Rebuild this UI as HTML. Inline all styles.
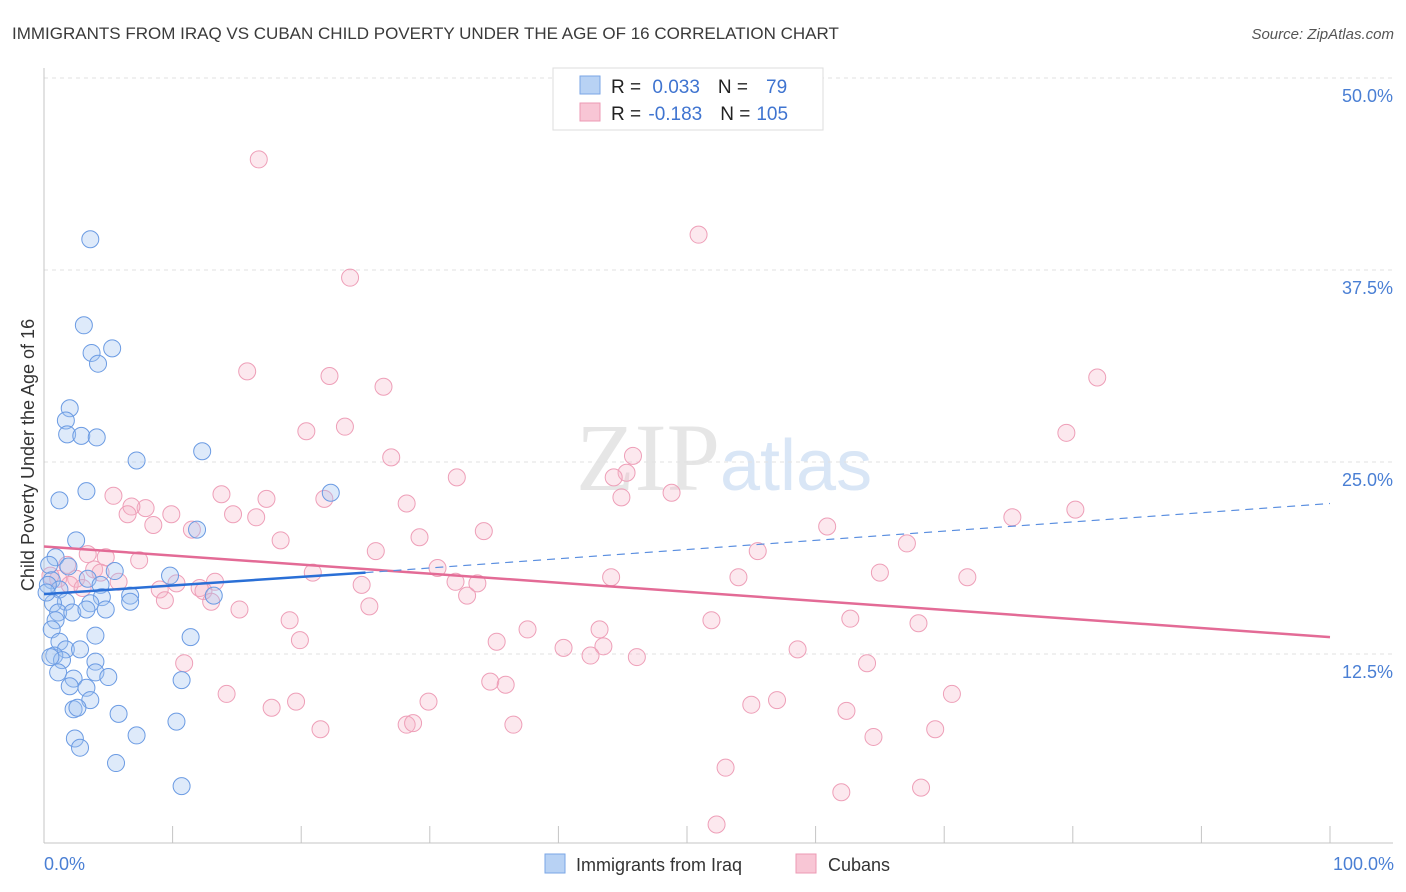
<!DOCTYPE html>
<html><head><meta charset="utf-8"><style>
body{margin:0;background:#fff;font-family:"Liberation Sans",sans-serif;}
#wrap{position:relative;width:1406px;height:892px;overflow:hidden;}
</style></head><body>
<div id="wrap">
<svg id="svg" width="1406" height="892" xmlns="http://www.w3.org/2000/svg">
<text x="12" y="39" font-size="17" fill="#3a3a3a">IMMIGRANTS FROM IRAQ VS CUBAN CHILD POVERTY UNDER THE AGE OF 16 CORRELATION CHART</text>
<text x="1394" y="39" font-size="15" fill="#555" text-anchor="end" font-style="italic">Source: ZipAtlas.com</text>
<text x="720" y="490" font-size="96" fill="#e6e6e6" text-anchor="end" font-family="Liberation Serif">ZIP</text>
<text x="720" y="490" font-size="72" fill="#d9e6f6">atlas</text>
<g id="grid"></g><g id="axes"></g><g id="pts"></g><g id="trend"></g>
<text transform="translate(34,455) rotate(-90)" font-size="18" fill="#333" text-anchor="middle">Child Poverty Under the Age of 16</text>
<text x="44" y="870" font-size="18" fill="#4a7fd4">0.0%</text>
<text x="1394" y="870" font-size="18" fill="#4a7fd4" text-anchor="end">100.0%</text>
<g>
<rect x="553" y="68" width="270" height="62" fill="#fff" stroke="#ddd"/>
<rect x="580" y="76" width="20" height="18" fill="#b8d2f4" stroke="#7aa6e6"/>
<rect x="580" y="103" width="20" height="18" fill="#f8c6d5" stroke="#ec9ab4"/>
<text x="611" y="93" font-size="19" fill="#222">R = <tspan fill="#3f74d0" dx="6">0.033</tspan><tspan dx="18">N =</tspan><tspan fill="#3f74d0" dx="18">79</tspan></text>
<text x="611" y="120" font-size="19" fill="#222">R = <tspan fill="#3f74d0" dx="2">-0.183</tspan><tspan dx="18">N =</tspan><tspan fill="#3f74d0" dx="6">105</tspan></text>
</g>
<g>
<rect x="545" y="854" width="20" height="19" fill="#b8d2f4" stroke="#7aa6e6"/>
<text x="576" y="871" font-size="18" fill="#333">Immigrants from Iraq</text>
<rect x="796" y="854" width="20" height="19" fill="#f8c6d5" stroke="#ec9ab4"/>
<text x="828" y="871" font-size="18" fill="#333">Cubans</text>
</g>
</svg>
</div>
<script>
const yTicks=[12.5,25,37.5,50];
const yTickLabels=["12.5%","25.0%","37.5%","50.0%"];
const xTicks=[0,10,20,30,40,50,60,70,80,90,100];
const iraqX=[3.6,3.1,3.7,5.3,4.2,2.0,1.7,1.8,2.9,4.1,7.2,12.3,1.2,3.3,22.3,11.9,2.5,0.9,0.4,1.9,9.8,3.4,5.5,0.6,1.2,4.4,6.7,4.5,13.2,1.7,3.6,0.7,1.1,2.2,4.8,6.7,3.3,0.9,0.6,4.0,11.4,1.2,1.7,2.8,0.8,1.4,4.0,1.1,4.0,2.3,5.0,2.0,3.3,10.7,3.6,2.3,2.6,5.8,10.3,2.4,7.2,2.8,5.6,10.7,0.3,0.2,0.5];
const iraqY=[39.5,33.9,32.1,32.4,31.4,28.5,27.7,26.8,26.7,26.6,25.1,25.7,22.5,23.1,23.0,20.6,19.9,18.8,18.3,18.2,17.6,17.4,17.9,17.3,16.7,17.0,16.3,16.2,16.3,15.9,15.8,15.8,15.2,15.2,15.4,15.9,15.4,14.7,14.1,13.7,13.6,13.3,12.8,12.8,12.4,12.1,12.0,11.3,11.3,10.9,11.0,10.4,10.3,10.8,9.5,8.9,9.0,8.6,8.1,7.0,7.2,6.4,5.4,3.9,17.0,16.5,12.3];
const cubaX=[16.7,50.9,23.8,15.8,22.2,26.4,81.9,20.4,23.4,79.5,27.0,32.1,45.8,45.3,44.3,48.8,44.9,5.4,13.8,17.3,21.8,28.2,7.9,6.8,6.5,9.9,14.7,16.5,8.5,11.5,34.2,60.9,75.3,80.2,18.4,29.2,67.1,25.8,55.5,3.4,4.8,7.4,1.8,3.9,20.9,30.6,65.0,71.8,54.0,44.1,1.1,2.5,4.4,5.8,13.3,10.3,24.7,32.0,33.7,9.0,12.1,12.4,32.9,9.4,13.0,25.3,15.2,19.1,51.9,62.7,68.0,37.6,43.2,19.9,35.2,40.4,43.5,42.5,46.1,58.6,64.0,10.9,34.7,35.9,14.2,70.6,19.6,17.7,29.9,57.0,55.0,62.4,21.5,28.2,28.7,36.5,64.5,69.3,53.0,68.2,62.0,52.3,0.5,2.0,3.0];
const cubaY=[44.7,39.8,37.0,30.9,30.6,29.9,30.5,27.0,27.3,26.9,25.3,24.0,25.4,24.3,24.0,23.0,22.7,22.8,22.9,22.6,22.6,22.3,22.0,22.1,21.6,21.6,21.6,21.4,20.9,20.6,20.5,20.8,21.4,21.9,19.9,20.1,19.7,19.2,19.2,19.0,18.8,18.6,18.3,18.0,17.8,18.1,17.8,17.5,17.5,17.5,17.4,17.4,17.8,17.2,17.2,17.1,17.0,17.2,17.1,16.7,16.8,16.6,16.3,16.0,15.9,15.6,15.4,14.7,14.7,14.8,14.5,14.1,14.1,13.4,13.3,12.9,13.0,12.4,12.3,12.8,11.9,11.9,10.7,10.5,9.9,9.9,9.4,9.0,9.4,9.5,9.2,8.8,7.6,7.9,8.0,7.9,7.1,7.6,5.1,3.8,3.5,1.4,17.6,17.0,16.8];
const iraqTrend=[[0,16.4],[25,17.8],[100,22.3]];
const cubaTrend=[[0,19.5],[100,13.6]];
const NS="http://www.w3.org/2000/svg";
const X=v=>44+v*12.86, Y=v=>846-v*15.36;
function mk(t,a,p){const e=document.createElementNS(NS,t);for(const k in a)e.setAttribute(k,a[k]);p.appendChild(e);return e;}
const grid=document.getElementById('grid'),axes=document.getElementById('axes'),pts=document.getElementById('pts'),tr=document.getElementById('trend');
yTicks.forEach((t,i)=>{
 const l=mk('line',{x1:44,x2:1393,y1:Y(t),y2:Y(t),stroke:'#e2e2e2','stroke-dasharray':'4,4'},grid);
 
 
 const tx=mk('text',{x:1393,y:Y(t)+24,'font-size':18,fill:'#4a7fd4','text-anchor':'end'},grid);
 tx.textContent=yTickLabels[i];
 
 
});
const ya=mk('line',{x1:44,x2:44,y1:68,y2:843,stroke:'#c4c4c4'},axes);


const xa=mk('line',{x1:44,x2:1393,y1:843,y2:843,stroke:'#c4c4c4'},axes);


xTicks.forEach(t=>{
 const l=mk('line',{x1:X(t),x2:X(t),y1:826,y2:843,stroke:'#c4c4c4'},axes);
 
 
});
cubaX.forEach((x,i)=>{
 const c=mk('circle',{cx:X(x),cy:Y(cubaY[i]),r:8.5,fill:'rgba(246,180,200,0.3)',stroke:'#ee9fb8','stroke-width':1},pts);
 
 
});
iraqX.forEach((x,i)=>{
 const c=mk('circle',{cx:X(x),cy:Y(iraqY[i]),r:8.5,fill:'rgba(160,195,240,0.35)',stroke:'#6b9be3','stroke-width':1},pts);
 
 
});
const pl=mk('line',{x1:X(cubaTrend[0][0]),y1:Y(cubaTrend[0][1]),x2:X(cubaTrend[1][0]),y2:Y(cubaTrend[1][1]),stroke:'#e36b96','stroke-width':2.5},tr);


const bl=mk('line',{x1:X(iraqTrend[0][0]),y1:Y(iraqTrend[0][1]),x2:X(iraqTrend[1][0]),y2:Y(iraqTrend[1][1]),stroke:'#2a6fd6','stroke-width':2.5},tr);


const bd=mk('line',{x1:X(iraqTrend[1][0]),y1:Y(iraqTrend[1][1]),x2:X(iraqTrend[2][0]),y2:Y(iraqTrend[2][1]),stroke:'#5b8fe0','stroke-width':1.2,'stroke-dasharray':'8,6'},tr);


</script>
</body></html>
